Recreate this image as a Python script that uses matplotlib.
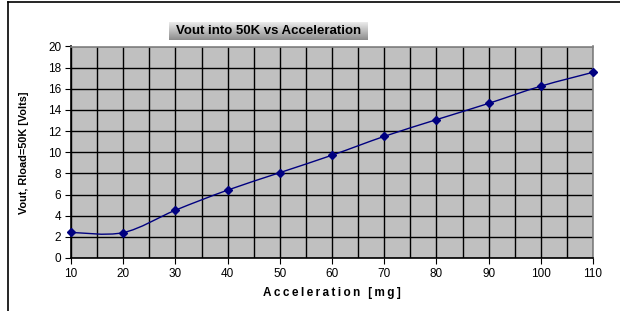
import numpy as np
import matplotlib
matplotlib.use("Agg")
import matplotlib.pyplot as plt
from matplotlib.path import Path
from matplotlib.patches import PathPatch

plt.rcParams['font.family'] = ['Liberation Sans', 'DejaVu Sans']

# data
accel = [10, 20, 30, 40, 50, 60, 70, 80, 90, 100, 110]
vout = [2.42, 2.40, 4.52, 6.42, 8.07, 9.72, 11.5, 13.08, 14.62, 16.25, 17.56]

fig = plt.figure(figsize=(6.2, 3.11), dpi=100)
ax = fig.add_axes([71 / 620, 1 - 258 / 311, (593 - 71) / 620, (258 - 46.5) / 311])
ax.set_facecolor('#c0c0c0')

# smoothed line like Excel (cubic bezier through the points)
x = np.array(accel, float)
y = np.array(vout, float)
verts = [(x[0], y[0])]
codes = [Path.MOVETO]
for i in range(len(x) - 1):
    p0 = (x[i - 1], y[i - 1]) if i > 0 else (x[i], y[i])
    p3 = (x[i + 2], y[i + 2]) if i + 2 < len(x) else (x[i + 1], y[i + 1])
    c1 = (x[i] + (x[i + 1] - p0[0]) / 6, y[i] + (y[i + 1] - p0[1]) / 6)
    c2 = (x[i + 1] - (p3[0] - x[i]) / 6, y[i + 1] - (p3[1] - y[i]) / 6)
    verts += [c1, c2, (x[i + 1], y[i + 1])]
    codes += [Path.CURVE4] * 3
ax.add_patch(PathPatch(Path(verts, codes), fill=False, edgecolor='#000080', lw=1, zorder=3))
ax.plot(accel, vout, ls='none', marker='D', ms=4.5, color='#000080', zorder=4, clip_on=False)

ax.set_xlim(10, 110)
ax.set_ylim(0, 20)
ax.set_xticks(range(10, 111, 10))
ax.set_xticks(range(15, 110, 10), minor=True)
ax.set_yticks(range(0, 21, 2))
ax.grid(True, which='both', color='black', lw=1)
ax.tick_params(which='major', direction='out', length=4, width=0.8, colors='black', labelsize=8.5, pad=3)
ax.tick_params(which='minor', length=0)
for s in ax.spines.values():
    s.set_color('#808080')
    s.set_linewidth(1.2)
ax.spines['left'].set_color('black')
ax.spines['bottom'].set_color('black')
ax.set_axisbelow(True)

xlab = '\u2009'.join('Acceleration [mg]')
ax.set_xlabel(xlab, fontsize=8.5, fontweight='bold', labelpad=5)
ax.set_ylabel('Vout, Rload=50K [Volts]', fontsize=7.8, fontweight='bold', labelpad=14)

# title box with a gray gradient
tx0, ty0, tw, th = 169 / 620, 1 - 40 / 311, 199 / 620, 18 / 311
tax = fig.add_axes([tx0, ty0, tw, th])
grad = np.linspace(0.92, 0.55, 50).reshape(-1, 1)
tax.imshow(grad, cmap='gray', vmin=0, vmax=1, aspect='auto', extent=[0, 1, 0, 1])
tax.set_axis_off()
tax.text(0.5, 0.5, 'Vout into 50K vs Acceleration', ha='center', va='center',
         fontsize=9.5, fontweight='bold', transform=tax.transAxes)

# outer frame (top and left edges visible)
fig.add_artist(plt.Line2D([8 / 620, 8 / 620], [0, 1 - 1.5 / 311], color='black', lw=1.2))
fig.add_artist(plt.Line2D([8 / 620, 1], [1 - 1.5 / 311, 1 - 1.5 / 311], color='black', lw=1.2))

fig.savefig('out.png', dpi=100)
